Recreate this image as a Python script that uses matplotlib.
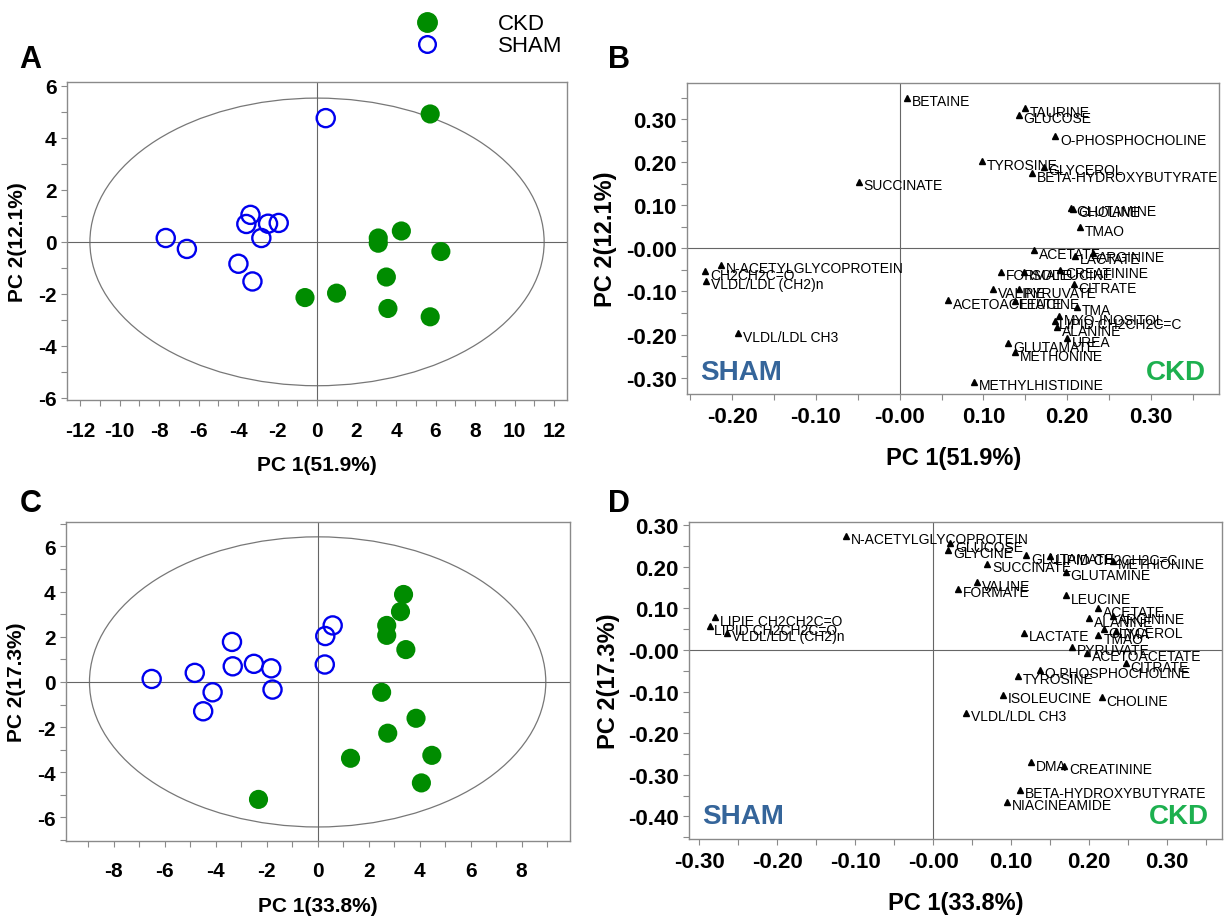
import numpy as np
import matplotlib
matplotlib.use("Agg")
import matplotlib.pyplot as plt
from matplotlib.patches import Ellipse
from matplotlib.lines import Line2D

plt.rcParams['font.family'] = ['Liberation Sans', 'DejaVu Sans']
plt.rcParams['axes.unicode_minus'] = False

# ---- score plot A (PC1 51.9%, PC2 12.1%) ----
a_ckd_x = [5.73, 3.10, 3.10, 4.27, 6.27, 3.51, 3.59, 5.73, 0.99, -0.61]
a_ckd_y = [4.92, 0.15, -0.05, 0.42, -0.37, -1.35, -2.56, -2.88, -1.97, -2.14]
a_sham_x = [0.44, -7.66, -6.59, -3.37, -3.58, -2.48, -1.94, -2.82, -3.98, -3.27]
a_sham_y = [4.76, 0.15, -0.27, 1.04, 0.69, 0.70, 0.73, 0.15, -0.84, -1.52]
a_ellipse = (23.0, 11.06)

# ---- score plot C (PC1 33.8%, PC2 17.3%) ----
c_ckd_x = [3.37, 3.25, 2.71, 2.71, 3.46, 2.51, 3.86, 2.75, 1.29, 4.48, 4.07, -2.32]
c_ckd_y = [3.87, 3.11, 2.50, 2.06, 1.43, -0.46, -1.61, -2.27, -3.38, -3.25, -4.47, -5.20]
c_sham_x = [-6.51, -4.82, -4.12, -4.49, -3.36, -3.33, -2.50, -1.82, -1.77, 0.30, 0.59, 0.28]
c_sham_y = [0.13, 0.40, -0.46, -1.30, 1.77, 0.69, 0.80, 0.60, -0.34, 2.03, 2.50, 0.77]
c_ellipse = (17.9, 12.84)

# ---- loading plot B ----
b_names = ['BETAINE', 'TAURINE', 'GLUCOSE', 'O-PHOSPHOCHOLINE', 'TYROSINE',
           'GLYCEROL', 'BETA-HYDROXYBUTYRATE', 'GLUTAMINE', 'CHOLINE', 'TMAO',
           'SUCCINATE', 'ACETATE', 'ARGININE', 'LACTATE', 'FORMATE',
           'ISOLEUCINE', 'CREATININE', 'CITRATE', 'VALINE', 'PYRUVATE',
           'ACETOACETATE', 'LEUCINE', 'TMA', 'MYO-INOSITOL', 'LIPID CH2CH2C=C',
           'ALANINE', 'UREA', 'GLUTAMATE', 'METHONINE', 'METHYLHISTIDINE',
           'N-ACETYLGLYCOPROTEIN', 'CH2CH2C=O', 'VLDL/LDL (CH2)n', 'VLDL/LDL CH3']
b_pc1 = [0.009, 0.150, 0.142, 0.186, 0.098, 0.172, 0.158, 0.205, 0.207, 0.215,
         -0.049, 0.161, 0.231, 0.209, 0.121, 0.148, 0.192, 0.208, 0.112, 0.142,
         0.058, 0.138, 0.212, 0.190, 0.185, 0.188, 0.200, 0.130, 0.138, 0.089,
         -0.213, -0.232, -0.231, -0.193]
b_pc2 = [0.350, 0.325, 0.310, 0.260, 0.202, 0.190, 0.174, 0.094, 0.092, 0.049,
         0.155, -0.004, -0.011, -0.017, -0.054, -0.054, -0.050, -0.083, -0.095, -0.095,
         -0.120, -0.122, -0.136, -0.158, -0.168, -0.183, -0.209, -0.220, -0.241, -0.310,
         -0.038, -0.053, -0.075, -0.197]

# ---- loading plot D ----
d_names = ['LIPIE CH2CH2C=O', 'LIPID CH2CH2C=O', 'VLDL/LDL (CH2)n',
           'N-ACETYLGLYCOPROTEIN', 'GLUCOSE', 'GLYCINE', 'GLUTAMATE',
           'LIPID CH2CH2C=C', 'METHIONINE', 'SUCCINATE', 'GLUTAMINE', 'VALINE',
           'FORMATE', 'LEUCINE', 'ACETATE', 'ALANINE', 'ARGININE', 'LACTATE',
           'GLYCEROL', 'TMAO', 'TMA', 'PYRUVATE', 'ACETOACETATE', 'CITRATE',
           'O-PHOSPHOCHOLINE', 'TYROSINE', 'ISOLEUCINE', 'CHOLINE', 'VLDL/LDL CH3',
           'DMA', 'CREATININE', 'BETA-HYDROXYBUTYRATE', 'NIACINEAMIDE']
d_pc1 = [-0.280, -0.287, -0.264, -0.112, 0.022, 0.019, 0.119, 0.150, 0.231,
         0.069, 0.170, 0.056, 0.032, 0.171, 0.212, 0.200, 0.231, 0.116, 0.219,
         0.212, 0.234, 0.178, 0.197, 0.247, 0.137, 0.109, 0.089, 0.216, 0.042,
         0.125, 0.168, 0.111, 0.095]
d_pc2 = [0.079, 0.057, 0.042, 0.275, 0.257, 0.241, 0.228, 0.225, 0.215, 0.207,
         0.188, 0.163, 0.147, 0.132, 0.100, 0.076, 0.082, 0.042, 0.050, 0.036,
         0.046, 0.008, -0.007, -0.032, -0.048, -0.062, -0.108, -0.114, -0.151,
         -0.270, -0.278, -0.336, -0.364]

b_xticks = [-0.2, -0.1, 0.0, 0.1, 0.2, 0.3]
b_xlabels = ['-0.20', '-0.10', '-0.00', '0.10', '0.20', '0.30']
b_yticks = [-0.3, -0.2, -0.1, 0.0, 0.1, 0.2, 0.3]
b_ylabels = ['-0.30', '-0.20', '-0.10', '-0.00', '0.10', '0.20', '0.30']
d_xticks = [-0.3, -0.2, -0.1, 0.0, 0.1, 0.2, 0.3]
d_xlabels = ['-0.30', '-0.20', '-0.10', '-0.00', '0.10', '0.20', '0.30']
d_yticks = [-0.4, -0.3, -0.2, -0.1, 0.0, 0.1, 0.2, 0.3]
d_ylabels = ['-0.40', '-0.30', '-0.20', '-0.10', '-0.00', '0.10', '0.20', '0.30']

GREEN = '#008c00'
BLUE = '#0000ee'
SPINE = '#8a8a8a'
SHAM_TXT = '#35659a'
CKD_TXT = '#1db04f'


def style_axes(ax, tick_size, xpad):
    for s in ax.spines.values():
        s.set_color(SPINE)
        s.set_linewidth(1.0)
    ax.tick_params(which='both', direction='out', length=4, width=0.8,
                   color=SPINE, labelsize=tick_size)
    ax.tick_params(axis='x', pad=xpad)
    for lab in ax.get_xticklabels() + ax.get_yticklabels():
        lab.set_fontweight('bold')
    ax.axhline(0, color='#666666', lw=0.8, zorder=1)
    ax.axvline(0, color='#666666', lw=0.8, zorder=1)


def score_plot(ax, cx, cy, sx, sy, ell, xlim, ylim, xmaj, ymaj, xlab, ylab):
    ax.add_patch(Ellipse((0, 0), ell[0], ell[1], fill=False,
                         edgecolor='#777777', lw=0.9, zorder=1))
    ax.scatter(sx, sy, s=170, facecolors='none', edgecolors=BLUE,
               linewidths=1.7, zorder=3)
    ax.scatter(cx, cy, s=190, color=GREEN, edgecolors='none', zorder=3)
    ax.set_xlim(*xlim)
    ax.set_ylim(*ylim)
    ax.set_xticks(xmaj)
    ax.set_yticks(ymaj)
    ax.set_xticks(np.arange(xmaj[0] - 1, xmaj[-1] + 1.5, 1), minor=True)
    ax.set_yticks(np.arange(ymaj[0] - 1, ymaj[-1] + 1.5, 1), minor=True)
    ax.set_xlim(*xlim)
    ax.set_ylim(*ylim)
    style_axes(ax, 15, 11)
    ax.set_xlabel(xlab, fontsize=15, fontweight='bold', labelpad=11)
    ax.set_ylabel(ylab, fontsize=15, fontweight='bold', labelpad=8)


def loading_plot(ax, names, px, py, xlim, ylim, xt, xl, yt, yl, xlab, ylab):
    ax.plot(px, py, '^', color='black', ms=4.8, ls='none', zorder=3)
    for n, x, y in zip(names, px, py):
        ax.annotate(n, (x, y), xytext=(3.5, -2.5), textcoords='offset points',
                    fontsize=10, va='center', ha='left', zorder=4)
    ax.set_xlim(*xlim)
    ax.set_ylim(*ylim)
    ax.set_xticks(xt)
    ax.set_xticklabels(xl)
    ax.set_yticks(yt)
    ax.set_yticklabels(yl)
    ax.set_xticks(np.arange(xt[0] - 0.05, xt[-1] + 0.075, 0.05), minor=True)
    ax.set_yticks(np.arange(yt[0] - 0.05, yt[-1] + 0.075, 0.05), minor=True)
    ax.set_xlim(*xlim)
    ax.set_ylim(*ylim)
    style_axes(ax, 16, 5)
    ax.set_xlabel(xlab, fontsize=17, fontweight='bold', labelpad=13)
    ax.set_ylabel(ylab, fontsize=17, fontweight='bold', labelpad=6)
    ax.text(0.025, 0.03, 'SHAM', transform=ax.transAxes, fontsize=20,
            fontweight='bold', color=SHAM_TXT, ha='left', va='bottom')
    ax.text(0.975, 0.03, 'CKD', transform=ax.transAxes, fontsize=20,
            fontweight='bold', color=CKD_TXT, ha='right', va='bottom')


fig = plt.figure(figsize=(12.25, 9.2), dpi=100)
axA = fig.add_axes([0.0547, 0.5641, 0.4082, 0.3457])
axB = fig.add_axes([0.5608, 0.5707, 0.4347, 0.3380])
axC = fig.add_axes([0.0539, 0.0853, 0.4110, 0.3458])
axD = fig.add_axes([0.5627, 0.0870, 0.4351, 0.3442])

score_plot(axA, a_ckd_x, a_ckd_y, a_sham_x, a_sham_y, a_ellipse,
           (-12.66, 12.66), (-6.08, 6.15), list(range(-12, 13, 2)),
           list(range(-6, 7, 2)), 'PC 1(51.9%)', 'PC 2(12.1%)')
score_plot(axC, c_ckd_x, c_ckd_y, c_sham_x, c_sham_y, c_ellipse,
           (-9.87, 9.88), (-7.02, 7.06), list(range(-8, 9, 2)),
           list(range(-6, 7, 2)), 'PC 1(33.8%)', 'PC 2(17.3%)')
loading_plot(axB, b_names, b_pc1, b_pc2, (-0.254, 0.382), (-0.338, 0.384),
             b_xticks, b_xlabels, b_yticks, b_ylabels, 'PC 1(51.9%)', 'PC 2(12.1%)')
loading_plot(axD, d_names, d_pc1, d_pc2, (-0.313, 0.371), (-0.454, 0.307),
             d_xticks, d_xlabels, d_yticks, d_ylabels, 'PC 1(33.8%)', 'PC 2(17.3%)')

for lab, x, y in [('A', 0.025, 0.935), ('B', 0.505, 0.935),
                  ('C', 0.025, 0.452), ('D', 0.505, 0.452)]:
    fig.text(x, y, lab, fontsize=22, fontweight='bold', ha='center', va='center')

# legend at the top
handles = [Line2D([], [], marker='o', ls='none', color=GREEN, ms=14),
           Line2D([], [], marker='o', ls='none', mfc='none', mec=BLUE, mew=1.7, ms=12)]
fig.legend(handles, ['CKD', 'SHAM'], loc='center', bbox_to_anchor=(0.395, 0.961),
           frameon=False, fontsize=16, handletextpad=2.2, labelspacing=0.05)

fig.savefig('out.png', dpi=100)
